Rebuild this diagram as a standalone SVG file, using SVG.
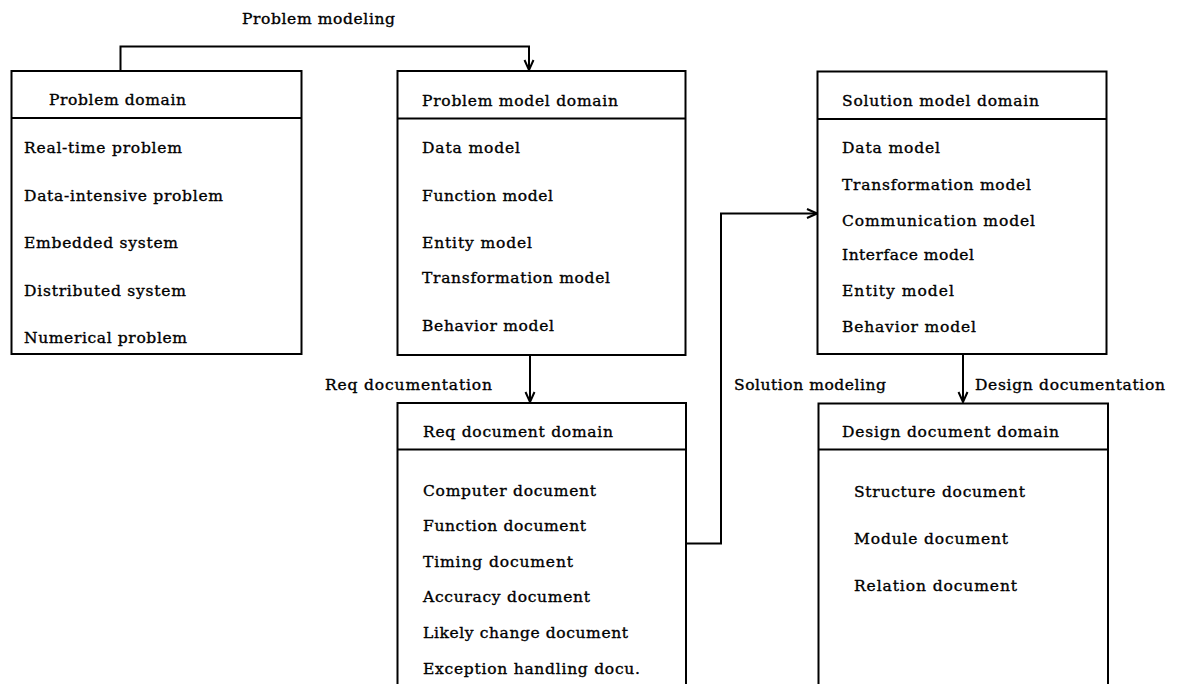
<svg xmlns="http://www.w3.org/2000/svg" width="1179" height="684" viewBox="0 0 1179 684">
  <style>
    .box { fill: none; stroke: #000; stroke-width: 2; }
    .rule { stroke: #000; stroke-width: 2; }
    .wire { fill: none; stroke: #000; stroke-width: 2; }
    text { font-family: "DejaVu Serif", "Liberation Serif", serif; font-size: 15.5px; fill: #000; stroke: #000; stroke-width: 0.35; }
  </style>
  <defs>
    <marker id="arrow" markerUnits="userSpaceOnUse" markerWidth="12" markerHeight="12" refX="11" refY="6" orient="auto" viewBox="0 0 12 12">
      <path d="M1,1.5 L11,6 L1,10.5" fill="none" stroke="#000" stroke-width="2"/>
    </marker>
  </defs>
  <rect width="1179" height="684" fill="#fff"/>

  <!-- connectors -->
  <g id="connectors">
    <path class="wire" d="M120.5,71 V46.5 H529 V70" marker-end="url(#arrow)"/>
    <text x="242" y="24" textLength="153" lengthAdjust="spacing">Problem modeling</text>

    <path class="wire" d="M530,355 V402" marker-end="url(#arrow)"/>
    <text x="325" y="390" textLength="167" lengthAdjust="spacing">Req documentation</text>

    <path class="wire" d="M686,543.5 H721 V213.5 H817" marker-end="url(#arrow)"/>
    <text x="734" y="390" textLength="152" lengthAdjust="spacing">Solution modeling</text>

    <path class="wire" d="M963,354 V402" marker-end="url(#arrow)"/>
    <text x="975" y="390" textLength="190" lengthAdjust="spacing">Design documentation</text>
  </g>

  <!-- Problem domain -->
  <g id="problem-domain">
    <rect class="box" x="11.5" y="71" width="290" height="283"/>
    <line class="rule" x1="11.5" y1="118" x2="301.5" y2="118"/>
    <text x="49" y="105" textLength="137" lengthAdjust="spacing">Problem domain</text>
    <text x="24" y="153" textLength="158" lengthAdjust="spacing">Real-time problem</text>
    <text x="24" y="200.5" textLength="199" lengthAdjust="spacing">Data-intensive problem</text>
    <text x="24" y="248" textLength="154" lengthAdjust="spacing">Embedded system</text>
    <text x="24" y="295.5" textLength="162" lengthAdjust="spacing">Distributed system</text>
    <text x="24" y="343" textLength="163" lengthAdjust="spacing">Numerical problem</text>
  </g>

  <!-- Problem model domain -->
  <g id="problem-model-domain">
    <rect class="box" x="397.5" y="71" width="288" height="284"/>
    <line class="rule" x1="397.5" y1="118.5" x2="685.5" y2="118.5"/>
    <text x="422" y="106" textLength="196" lengthAdjust="spacing">Problem model domain</text>
    <text x="422" y="153" textLength="98" lengthAdjust="spacing">Data model</text>
    <text x="422" y="200.5" textLength="131" lengthAdjust="spacing">Function model</text>
    <text x="422" y="248" textLength="110" lengthAdjust="spacing">Entity model</text>
    <text x="422" y="283" textLength="188" lengthAdjust="spacing">Transformation model</text>
    <text x="422" y="331" textLength="132" lengthAdjust="spacing">Behavior model</text>
  </g>

  <!-- Solution model domain -->
  <g id="solution-model-domain">
    <rect class="box" x="817.5" y="71.5" width="289" height="282.5"/>
    <line class="rule" x1="817.5" y1="119" x2="1106.5" y2="119"/>
    <text x="842" y="106" textLength="197" lengthAdjust="spacing">Solution model domain</text>
    <text x="842" y="153" textLength="98" lengthAdjust="spacing">Data model</text>
    <text x="842" y="190" textLength="189" lengthAdjust="spacing">Transformation model</text>
    <text x="842" y="225.5" textLength="193" lengthAdjust="spacing">Communication model</text>
    <text x="842" y="260" textLength="132" lengthAdjust="spacing">Interface model</text>
    <text x="842" y="296" textLength="112" lengthAdjust="spacing">Entity model</text>
    <text x="842" y="331.5" textLength="134" lengthAdjust="spacing">Behavior model</text>
  </g>

  <!-- Req document domain -->
  <g id="req-document-domain">
    <path class="box" d="M397.5,690 V403 H686 V690"/>
    <line class="rule" x1="397.5" y1="449.5" x2="686" y2="449.5"/>
    <text x="423" y="437" textLength="190" lengthAdjust="spacing">Req document domain</text>
    <text x="423" y="496" textLength="173" lengthAdjust="spacing">Computer document</text>
    <text x="423" y="531" textLength="163" lengthAdjust="spacing">Function document</text>
    <text x="423" y="566.5" textLength="150" lengthAdjust="spacing">Timing document</text>
    <text x="423" y="602" textLength="167" lengthAdjust="spacing">Accuracy document</text>
    <text x="423" y="638" textLength="205" lengthAdjust="spacing">Likely change document</text>
    <text x="423" y="674" textLength="217" lengthAdjust="spacing">Exception handling docu.</text>
  </g>

  <!-- Design document domain -->
  <g id="design-document-domain">
    <path class="box" d="M818.5,690 V403.5 H1108 V690"/>
    <line class="rule" x1="818.5" y1="449.5" x2="1108" y2="449.5"/>
    <text x="842" y="437" textLength="217" lengthAdjust="spacing">Design document domain</text>
    <text x="854" y="496.5" textLength="171" lengthAdjust="spacing">Structure document</text>
    <text x="854" y="544" textLength="154" lengthAdjust="spacing">Module document</text>
    <text x="854" y="590.5" textLength="163" lengthAdjust="spacing">Relation document</text>
  </g>
</svg>
